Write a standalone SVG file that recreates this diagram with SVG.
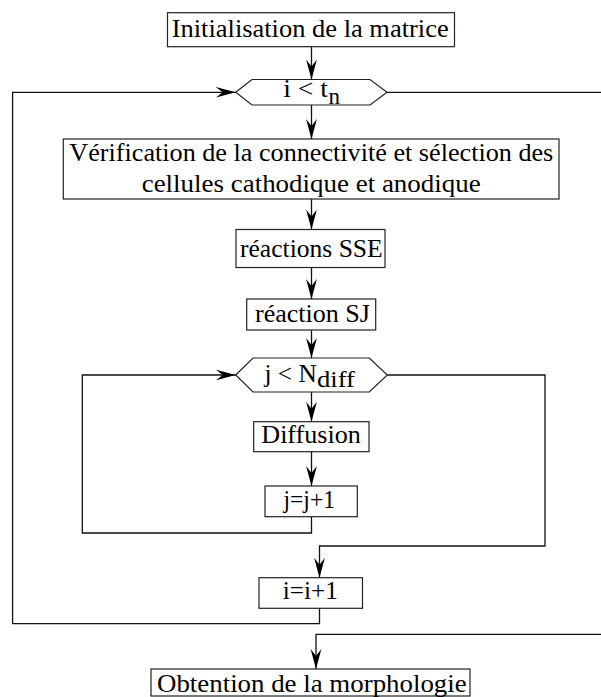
<svg xmlns="http://www.w3.org/2000/svg" width="601" height="697" viewBox="0 0 601 697">
<style>
.box{fill:#fff;stroke:#222;stroke-width:1.2}
.t{font-family:"Liberation Serif",serif;font-size:26px;fill:#000}
.s{font-family:"Liberation Serif",serif;font-size:23px;fill:#000}
.c{fill:none;stroke:#111;stroke-width:1.3}
</style>
<defs>
<marker id="arr" markerUnits="userSpaceOnUse" markerWidth="20" markerHeight="12" refX="20" refY="6" orient="auto" viewBox="0 0 20 12">
<path d="M0,0.6 L20,6 L0,11.4 L7,6 Z" fill="#000"/>
</marker>
</defs>
<rect width="601" height="697" fill="#fff"/>
<g id="connectors">
<path class="c" d="M311.5,46.7 V79.5" marker-end="url(#arr)"/>
<path class="c" d="M311.5,105 V139" marker-end="url(#arr)"/>
<path class="c" d="M311.5,199 V229.5" marker-end="url(#arr)"/>
<path class="c" d="M311.5,267.5 V299" marker-end="url(#arr)"/>
<path class="c" d="M311.5,330 V358" marker-end="url(#arr)"/>
<path class="c" d="M311.5,392 V421.7" marker-end="url(#arr)"/>
<path class="c" d="M311.5,451.7 V486" marker-end="url(#arr)"/>
<path class="c" d="M311.5,516.7 V533 H82.3 V375 H235.7" marker-end="url(#arr)"/>
<path class="c" d="M387.3,375 H545 V546 H319.5 V577.7" marker-end="url(#arr)"/>
<path class="c" d="M319.5,608.3 V623.7 H12.6 V92.3 H235.7" marker-end="url(#arr)"/>
<path class="c" d="M387,92.3 H602"/>
<path class="c" d="M602,634.3 H316 V669" marker-end="url(#arr)"/>
</g>
<g id="init">
<rect class="box" x="167.5" y="12.7" width="287" height="34"/>
<text class="t" x="171.7" y="36.5" textLength="277" lengthAdjust="spacingAndGlyphs">Initialisation de la matrice</text>
</g>
<g id="cond-i">
<polygon class="box" points="235.7,92.3 252,79.5 370,79.5 387,92.3 370,105 252,105"/>
<text class="t" x="283.3" y="97" textLength="44.7" lengthAdjust="spacingAndGlyphs">i &lt; t</text>
<text class="s" x="328.5" y="104" textLength="11.5" lengthAdjust="spacingAndGlyphs">n</text>
</g>
<g id="verif">
<rect class="box" x="63.3" y="139" width="495.7" height="60"/>
<text class="t" x="69.3" y="161" textLength="484" lengthAdjust="spacingAndGlyphs">Vérification de la connectivité et sélection des</text>
<text class="t" x="141.7" y="191.5" textLength="339" lengthAdjust="spacingAndGlyphs">cellules cathodique et anodique</text>
</g>
<g id="sse">
<rect class="box" x="236" y="229.5" width="149" height="38"/>
<text class="t" x="240" y="257" textLength="142.7" lengthAdjust="spacingAndGlyphs">réactions SSE</text>
</g>
<g id="sj">
<rect class="box" x="246.7" y="299" width="129" height="31"/>
<text class="t" x="255" y="322" textLength="115" lengthAdjust="spacingAndGlyphs">réaction SJ</text>
</g>
<g id="cond-j">
<polygon class="box" points="235.7,375 253,358 369.3,358 387.3,375 369.3,392 253,392"/>
<text class="t" x="264.4" y="381.7" textLength="52.3" lengthAdjust="spacingAndGlyphs">j &lt; N</text>
<text class="s" x="317" y="386.7" textLength="38" lengthAdjust="spacingAndGlyphs">diff</text>
</g>
<g id="diffusion">
<rect class="box" x="253.7" y="421.7" width="115.3" height="30"/>
<text class="t" x="261.3" y="442.7" textLength="99.5" lengthAdjust="spacingAndGlyphs">Diffusion</text>
</g>
<g id="jinc">
<rect class="box" x="265" y="486" width="92.3" height="30.7"/>
<text class="t" x="283.5" y="508.3" textLength="51.5" lengthAdjust="spacingAndGlyphs">j=j+1</text>
</g>
<g id="iinc">
<rect class="box" x="259" y="577.7" width="103.5" height="30.6"/>
<text class="t" x="282.8" y="599.3" textLength="55.2" lengthAdjust="spacingAndGlyphs">i=i+1</text>
</g>
<g id="obtention">
<rect class="box" x="151" y="669" width="319" height="27"/>
<text class="t" x="157" y="691.5" textLength="309.7" lengthAdjust="spacingAndGlyphs">Obtention de la morphologie</text>
</g>
</svg>
